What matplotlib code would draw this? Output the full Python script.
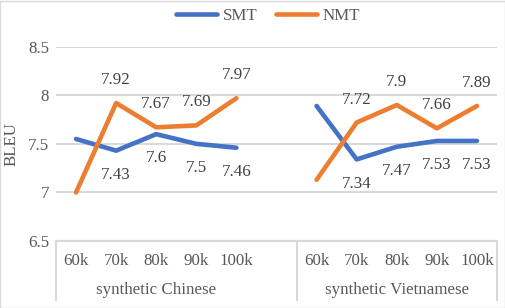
import matplotlib
matplotlib.use("Agg")
import matplotlib.pyplot as plt
import numpy as np
from matplotlib.patches import Rectangle

sizes = ["60k", "70k", "80k", "90k", "100k"]
groups = ["synthetic Chinese", "synthetic Vietnamese"]
smt_zh = [7.55, 7.43, 7.60, 7.50, 7.46]
nmt_zh = [7.00, 7.92, 7.67, 7.69, 7.97]
smt_vi = [7.89, 7.34, 7.47, 7.53, 7.53]
nmt_vi = [7.13, 7.72, 7.90, 7.66, 7.89]
yticks = [6.5, 7, 7.5, 8, 8.5]

BLUE = "#4472C4"
ORANGE = "#ED7D31"
GRID = "#D9D9D9"
TXT = "#595959"
FS = 12.2

plt.rcParams['font.family'] = ['Liberation Serif', 'DejaVu Serif']

fig = plt.figure(figsize=(5.06, 3.08), dpi=100)
ax = fig.add_axes([56/506, (308-241)/308, (497-56)/506, (241-46.7)/308])

x_zh = np.arange(len(sizes))
x_vi = np.arange(len(sizes)) + len(sizes) + 1

lw = 3.3
l1, = ax.plot(x_zh, smt_zh, color=BLUE, lw=lw, solid_capstyle='round', label="SMT")
ax.plot(x_vi, smt_vi, color=BLUE, lw=lw, solid_capstyle='round')
l2, = ax.plot(x_zh, nmt_zh, color=ORANGE, lw=lw, solid_capstyle='round', label="NMT")
ax.plot(x_vi, nmt_vi, color=ORANGE, lw=lw, solid_capstyle='round')

def lab(xs, ys, off):
    for i, (xx, yy) in enumerate(zip(xs, ys)):
        if i == 0:
            continue
        ax.annotate(f"{yy:g}", (xx, yy), xytext=(0, off), textcoords='offset points',
                    ha='center', va='center', fontsize=FS, color="#404040")

lab(x_zh, nmt_zh, 16.5)
lab(x_vi, nmt_vi, 16.5)
lab(x_zh, smt_zh, -17.5)
lab(x_vi, smt_vi, -17.5)

ax.set_xlim(-0.5, 2 * len(sizes) + 0.5)
ax.set_ylim(6.5, 8.5)
ax.set_yticks(yticks)
ax.set_yticklabels([f"{v:g}" for v in yticks])
ax.yaxis.grid(True, color=GRID, lw=1.5)
ax.set_axisbelow(True)
ax.tick_params(axis='y', length=0, pad=5, labelsize=FS, labelcolor=TXT)
ax.set_xticks([])
for s in ['top', 'right', 'left']:
    ax.spines[s].set_visible(False)
ax.spines['bottom'].set_color(GRID)
ax.spines['bottom'].set_linewidth(1.5)

fig.text(12/506, 1 - 144/308, "BLEU", rotation=90, ha='center', va='center',
         fontsize=FS, color=TXT)

# category axis
trans = ax.get_xaxis_transform()
axh = 241 - 46.7
for xs in [-0.5, len(sizes) + 0.5, 2 * len(sizes) + 0.5]:
    ax.plot([xs, xs], [0, -59/axh], color=GRID, lw=1.5, transform=trans, clip_on=False)
for xx, s in zip(list(x_zh) + list(x_vi), sizes + sizes):
    ax.text(xx, -(261 - 241)/axh, s, transform=trans, ha='center', va='center',
            fontsize=FS, color=TXT)
centers = [len(sizes) / 2 - 0.5, len(sizes) + 0.5 + len(sizes) / 2]
for c, g in zip(centers, groups):
    ax.text(c, -(290 - 241)/axh, g, transform=trans, ha='center', va='center',
            fontsize=FS, color=TXT)

fig.legend(handles=[l1, l2], loc='center', bbox_to_anchor=(268/506, 1 - 16/308), ncol=2,
           frameon=False, fontsize=FS, handlelength=2.4, handletextpad=0.35,
           columnspacing=1.1, labelcolor=TXT)

fig.patches.append(Rectangle((0.5/506, 0.5/308), 1 - 1/506, 1 - 1/308, transform=fig.transFigure,
                             fill=False, edgecolor=GRID, lw=1))

fig.savefig("out.png", dpi=100)
